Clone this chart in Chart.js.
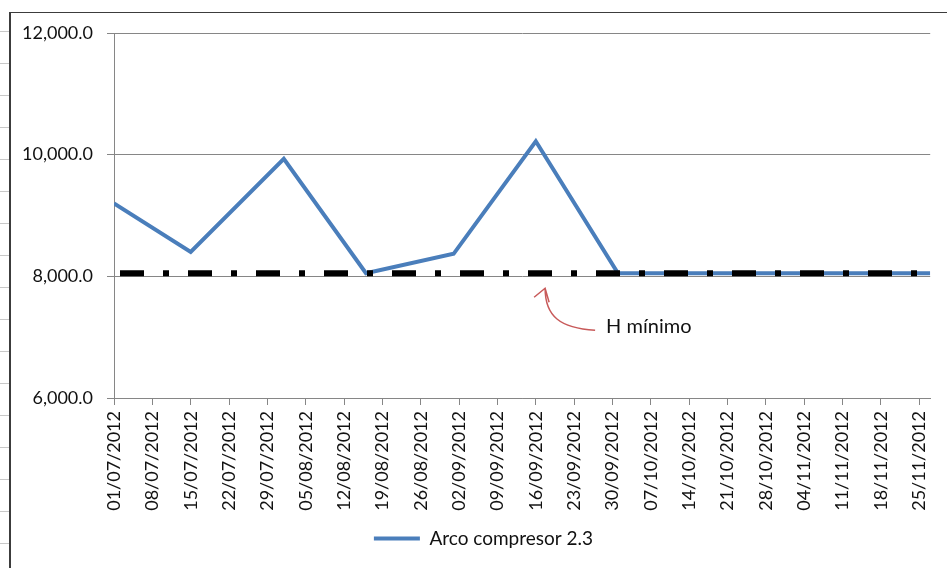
<!DOCTYPE html>
<html>
<head>
<meta charset="utf-8">
<script src="https://cdn.jsdelivr.net/npm/chart.js@4.4.0/dist/chart.umd.min.js"></script>
<style>
  html, body { margin: 0; padding: 0; background: #fff; overflow: hidden; }
  body { width: 947px; height: 568px; position: relative; }
  .cells {
    position: absolute; left: 0; top: 0; width: 9px; height: 568px;
    background: repeating-linear-gradient(to bottom, transparent 0, transparent 31px, #c8c8c8 31px, #c8c8c8 32px, transparent 32px, transparent 30.5px);
  }
  .frame {
    position: absolute; left: 9px; top: 12px; width: 960px; height: 580px;
    border-left: 2px solid #3c3c3c; border-top: 1px solid #3c3c3c;
  }
  .box { position: absolute; left: 0; top: 0; width: 936px; height: 555px; }
</style>
</head>
<body>
<div class="cells"></div>
<div class="frame">
  <div class="box"><canvas id="lineChart"></canvas></div>
</div>
<script>
const startDate = '01/07/2012';
const dates = ['01/07/2012', '15/07/2012', '01/08/2012', '16/08/2012', '01/09/2012', '16/09/2012',
               '01/10/2012', '16/10/2012', '01/11/2012', '16/11/2012', '27/11/2012'];
const arcoValues = [9200, 8400, 9930, 8050, 8370, 10220, 8050, 8050, 8050, 8050, 8050];
const hMinDates = ['01/07/2012', '27/11/2012'];
const hMinValues = [8050, 8050];
const yMin = 6000, yMax = 12000, yStep = 2000;
const xStepDays = 7;

function parseDate(s) {
    const p = s.split('/');
    return Date.UTC(+p[2], +p[1] - 1, +p[0]);
}
const t0 = parseDate(startDate);
function dayOf(s) { return Math.round((parseDate(s) - t0) / 86400000); }
function labelOf(d) {
    const dt = new Date(t0 + d * 86400000);
    const dd = String(dt.getUTCDate()).padStart(2, '0');
    const mm = String(dt.getUTCMonth() + 1).padStart(2, '0');
    return dd + '/' + mm + '/' + dt.getUTCFullYear();
}

const FONT = 'Lato';
const axisGray = '#868686';
const textColor = '#111';

// note "H mínimo" with a hand-drawn arrow up to the dashed line
const notePlugin = {
    id: 'note',
    afterLayout(chart) {
        // legend sits a little right of centre, as in the sheet
        chart.legend.left += 10;
        chart.legend.right += 10;
    },
    afterDraw(chart) {
        const ctx = chart.ctx;
        const x = chart.scales.x.getPixelForValue(78.7);
        const y = chart.scales.y.getPixelForValue(hMinValues[0]) + 15;
        ctx.save();
        ctx.strokeStyle = '#c85a5a';
        ctx.lineWidth = 1.5;
        ctx.beginPath();
        ctx.moveTo(x + 50, y + 42);
        ctx.bezierCurveTo(x + 15, y + 40, x, y + 28, x, y);
        ctx.moveTo(x - 11, y + 9);
        ctx.lineTo(x, y);
        ctx.lineTo(x + 4, y + 14);
        ctx.stroke();
        ctx.fillStyle = textColor;
        ctx.font = '20px ' + FONT;
        ctx.textBaseline = 'middle';
        ctx.fillText('H mínimo', x + 61, y + 38);
        ctx.restore();
    }
};

const ctxLine = document.getElementById('lineChart').getContext('2d');
new Chart(ctxLine, {
    type: 'line',
    data: {
        datasets: [{
            label: 'Arco compresor 2.3',
            data: dates.map((d, i) => ({ x: dayOf(d), y: arcoValues[i] })),
            borderColor: '#4a7ebb',
            backgroundColor: '#4a7ebb',
            borderWidth: 4,
            pointRadius: 0,
            tension: 0,
            fill: false,
            order: 1
        }, {
            label: 'H mínimo',
            data: hMinDates.map((d, i) => ({ x: dayOf(d), y: hMinValues[i] })),
            borderColor: '#000',
            borderWidth: 6,
            borderDash: [24, 19, 6, 19],
            borderDashOffset: 62,
            borderCapStyle: 'butt',
            pointRadius: 0,
            fill: false,
            order: 0
        }]
    },
    options: {
        responsive: true,
        maintainAspectRatio: false,
        animation: false,
        layout: { padding: { top: 20, right: 11, bottom: 10, left: 0 } },
        plugins: {
            legend: {
                position: 'bottom',
                labels: {
                    filter: item => item.datasetIndex === 0,
                    usePointStyle: true,
                    pointStyle: 'line',
                    pointStyleWidth: 46,
                    color: textColor,
                    font: { family: FONT, size: 19 }
                }
            },
            tooltip: { enabled: false }
        },
        scales: {
            x: {
                type: 'linear',
                min: 0,
                max: dayOf(dates[dates.length - 1]),
                afterFit: s => { s.height = 121; },
                grid: { drawOnChartArea: false, color: axisGray, tickLength: 7 },
                border: { color: axisGray },
                ticks: {
                    stepSize: xStepDays,
                    includeBounds: false,
                    autoSkip: false,
                    minRotation: 90,
                    maxRotation: 90,
                    padding: 6,
                    color: textColor,
                    font: { family: FONT, size: 18 },
                    callback: v => labelOf(v)
                }
            },
            y: {
                min: yMin,
                max: yMax,
                afterFit: s => { s.width = 103; s.paddingTop = 11; s.paddingBottom = 11; },
                grid: { color: axisGray, tickLength: 7 },
                border: { color: axisGray },
                ticks: {
                    stepSize: yStep,
                    padding: 14,
                    color: textColor,
                    font: { family: FONT, size: 18 },
                    callback: v => v.toLocaleString('en-US', { minimumFractionDigits: 1, maximumFractionDigits: 1 })
                }
            }
        }
    },
    plugins: [notePlugin]
});
</script>
</body>
</html>
